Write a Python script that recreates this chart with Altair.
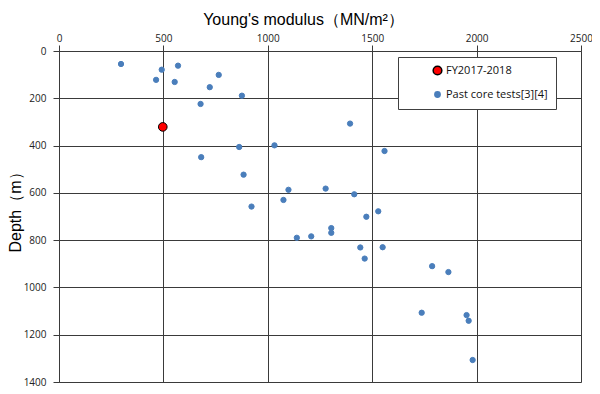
import altair as alt
import pandas as pd

# Data
series_names = ["FY2017-2018", "Past core tests[3][4]"]

fy_E = [497]
fy_depth = [321]

past_E = [297, 492, 570, 465, 554, 765, 722, 876, 678, 863, 1032, 681, 884,
          1099, 1277, 1075, 922, 1139, 1208, 1394, 1559, 1414, 1529, 1472,
          1304, 1304, 1443, 1550, 1464, 1787, 1865, 1737, 1952, 1962, 1981]
past_depth = [55, 79, 62, 122, 131, 101, 153, 189, 224, 406, 399, 449, 523,
              587, 582, 630, 658, 790, 784, 307, 423, 606, 678, 701,
              749, 769, 831, 830, 878, 910, 935, 1107, 1117, 1141, 1307]

x_ticks = [0, 500, 1000, 1500, 2000, 2500]
y_ticks = [0, 200, 400, 600, 800, 1000, 1200, 1400]

df = pd.DataFrame({
    "E": past_E + fy_E,
    "depth": past_depth + fy_depth,
    "series": [series_names[1]] * len(past_E) + [series_names[0]] * len(fy_E),
})

GRID = "#3a3a3a"
LABEL_FONT = "Open Sans"
TITLE_FONT = "Liberation Sans"

legend = alt.Legend(
    title=None,
    orient="none",
    legendX=339,
    legendY=6,
    fillColor="white",
    strokeColor="#404040",
    padding=8,
    symbolOffset=26,
    labelOffset=3,
    rowPadding=10,
    labelFont=LABEL_FONT,
    labelFontSize=11,
    labelColor="#111111",
)

chart = alt.Chart(df).mark_point(filled=True, opacity=1, strokeWidth=1).encode(
    x=alt.X(
        "E:Q",
        scale=alt.Scale(domain=[0, 2500], nice=False),
        axis=alt.Axis(
            orient="top", values=x_ticks, format="d", labelFlush=False,
            title="Young's modulus（MN/m²）",
            titleFont=TITLE_FONT, titleFontSize=16, titleFontWeight="normal",
            titleColor="#000000", titlePadding=6, titleX=244, titleAlign="center",
            labelFont=LABEL_FONT, labelFontSize=10, labelColor="#222222",
            labelPadding=2, tickSize=6, tickColor=GRID, domainColor=GRID,
            gridColor=GRID, gridOpacity=1, gridWidth=1,
        ),
    ),
    y=alt.Y(
        "depth:Q",
        scale=alt.Scale(domain=[0, 1400], reverse=True, nice=False),
        axis=alt.Axis(
            values=y_ticks, format="d", labelFlush=False, title="Depth（m）",
            titleFont=TITLE_FONT, titleFontSize=16, titleFontWeight="normal",
            titleColor="#000000", titleX=-44, titleY=157, titleBaseline="middle",
            titleAlign="center",
            labelFont=LABEL_FONT, labelFontSize=10, labelColor="#222222",
            labelPadding=7, tickSize=6, tickColor=GRID, domainColor=GRID,
            gridColor=GRID, gridOpacity=1, gridWidth=1,
        ),
    ),
    color=alt.Color("series:N",
                    scale=alt.Scale(domain=series_names, range=["#FF0000", "#4A7EBB"]),
                    legend=legend),
    size=alt.Size("series:N",
                  scale=alt.Scale(domain=series_names, range=[75, 28]),
                  legend=legend),
    stroke=alt.Stroke("series:N",
                      scale=alt.Scale(domain=series_names, range=["#000000", "#4A7EBB"]),
                      legend=legend),
).properties(
    width=522,
    height=331,
    autosize=alt.AutoSizeParams(type="none"),
    padding={"left": 51, "top": 43, "right": 11, "bottom": 8},
).configure_view(
    stroke=None
).configure(
    background="white"
)

chart.save("out.html", embed_options={"renderer": "svg", "actions": False})
